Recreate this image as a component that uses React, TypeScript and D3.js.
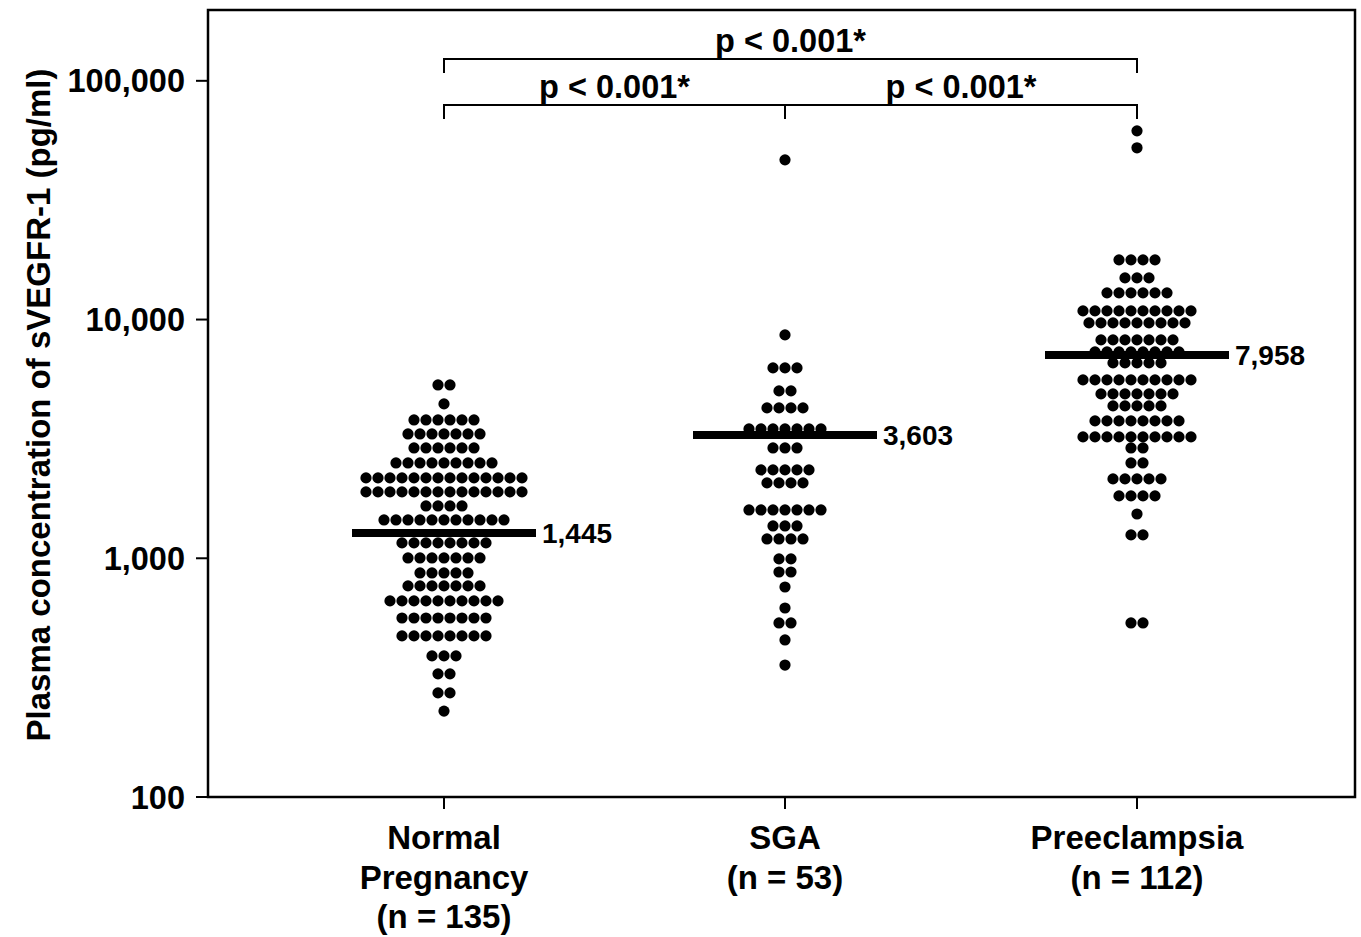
import React from "react";
import * as d3 from "d3";

const groups = ["Normal Pregnancy", "SGA", "Preeclampsia"];
const groupLabelLines = [
  ["Normal", "Pregnancy", "(n = 135)"],
  ["SGA", "(n = 53)"],
  ["Preeclampsia", "(n = 112)"],
];

// Dot rows: value (pg/ml) and number of dots in each row
const normalRowValues = [5323, 4433, 3798, 3318, 2899, 2508, 2171, 1897, 1657, 1447, 1160, 1003, 868, 766, 663, 562, 473, 390, 328, 273, 229];
const normalRowCounts = [2, 1, 6, 7, 6, 9, 14, 14, 4, 11, 8, 7, 5, 7, 10, 8, 8, 3, 2, 2, 1];

const sgaRowValues = [46660, 8623, 6273, 5024, 4265, 3483, 2899, 2345, 2069, 1594, 1366, 1205, 994, 876, 758, 619, 536, 455, 357];
const sgaRowCounts = [1, 1, 3, 2, 4, 7, 3, 5, 4, 7, 3, 4, 2, 2, 1, 1, 2, 1, 1];

const preRowValues = [61730, 52400, 17783, 14945, 12934, 10872, 9683, 8218, 7319, 6582, 5588, 4882, 4348, 3762, 3224, 2899, 2508, 2150, 1825, 1533, 1253, 536];
const preRowCounts = [1, 1, 4, 3, 6, 10, 9, 7, 8, 5, 10, 7, 5, 8, 10, 2, 2, 5, 4, 1, 2, 2];

// Horizontal bar positions (as drawn) and printed labels
const barValues = [1277, 3287, 7112];
const barLabels = ["1,445", "3,603", "7,958"];

const yTickValues = [100, 1000, 10000, 100000];
const yTickLabels = ["100", "1,000", "10,000", "100,000"];

const pText = "p < 0.001*";
const yTitle = "Plasma concentration of sVEGFR-1 (pg/ml)";

const W = 1361;
const H = 937;
const FONT = "'Liberation Sans', Arial, Helvetica, sans-serif";

export default function App() {
  const left = 208;
  const right = 1355;
  const top = 10;
  const bottom = 797;

  const y = d3.scaleLog().domain([100, 198000]).range([bottom, top]);
  const x = d3.scaleOrdinal<string, number>().domain(groups).range([444, 785, 1137]);

  const dotStep = 12;
  const r = 5.6;
  const rows = [
    { vals: normalRowValues, counts: normalRowCounts },
    { vals: sgaRowValues, counts: sgaRowCounts },
    { vals: preRowValues, counts: preRowCounts },
  ];

  const dots: { cx: number; cy: number }[] = [];
  rows.forEach((g, gi) => {
    const cx0 = x(groups[gi]);
    g.vals.forEach((v, ri) => {
      const n = g.counts[ri];
      for (let i = 0; i < n; i++) {
        dots.push({ cx: cx0 + (i - (n - 1) / 2) * dotStep, cy: y(v) });
      }
    });
  });

  const x0 = x(groups[0]);
  const x1 = x(groups[1]);
  const x2 = x(groups[2]);
  const bTop = 59;
  const bLow = 105;
  const tick = 14;

  return (
    <svg
      width={W}
      height={H}
      style={{ position: "absolute", left: 0, top: 0, background: "#fff" }}
      fontFamily={FONT}
    >
      {/* frame */}
      <rect x={left} y={top} width={right - left} height={bottom - top} fill="none" stroke="#000" strokeWidth={2.5} />

      {/* y ticks */}
      {yTickValues.map((v, i) => (
        <g key={v}>
          <line x1={left - 12} x2={left} y1={y(v)} y2={y(v)} stroke="#000" strokeWidth={2} />
          <text x={185} y={y(v) + 11.5} textAnchor="end" fontSize={32.5} fontWeight="bold" fill="#000">
            {yTickLabels[i]}
          </text>
        </g>
      ))}

      {/* x ticks and labels */}
      {groups.map((g, gi) => (
        <g key={g}>
          <line x1={x(g)} x2={x(g)} y1={bottom} y2={bottom + 12} stroke="#000" strokeWidth={2} />
          {groupLabelLines[gi].map((t, li) => (
            <text key={li} x={x(g)} y={849 + li * 39.5} textAnchor="middle" fontSize={33} fontWeight="bold" fill="#000">
              {t}
            </text>
          ))}
        </g>
      ))}

      {/* y title */}
      <text
        transform={`translate(50, 405) rotate(-90)`}
        textAnchor="middle"
        fontSize={33}
        fontWeight="bold"
        fill="#000"
      >
        {yTitle}
      </text>

      {/* dots */}
      {dots.map((d, i) => (
        <circle key={i} cx={d.cx} cy={d.cy} r={r} fill="#000" />
      ))}

      {/* bars and labels */}
      {groups.map((g, gi) => (
        <g key={"bar" + g}>
          <line x1={x(g) - 92} x2={x(g) + 92} y1={y(barValues[gi])} y2={y(barValues[gi])} stroke="#000" strokeWidth={8} />
          <text x={x(g) + 98} y={y(barValues[gi]) + 10} fontSize={28} fontWeight="bold" fill="#000">
            {barLabels[gi]}
          </text>
        </g>
      ))}

      {/* significance brackets */}
      <path d={`M${x0},${bTop + tick}V${bTop}H${x2}V${bTop + tick}`} fill="none" stroke="#000" strokeWidth={2} />
      <path d={`M${x0},${bLow + tick}V${bLow}H${x2}V${bLow + tick}M${x1},${bLow}V${bLow + tick}`} fill="none" stroke="#000" strokeWidth={2} />
      <text x={(x0 + x2) / 2} y={52} textAnchor="middle" fontSize={32.5} fontWeight="bold" fill="#000">{pText}</text>
      <text x={(x0 + x1) / 2} y={98} textAnchor="middle" fontSize={32.5} fontWeight="bold" fill="#000">{pText}</text>
      <text x={(x1 + x2) / 2} y={98} textAnchor="middle" fontSize={32.5} fontWeight="bold" fill="#000">{pText}</text>
    </svg>
  );
}
